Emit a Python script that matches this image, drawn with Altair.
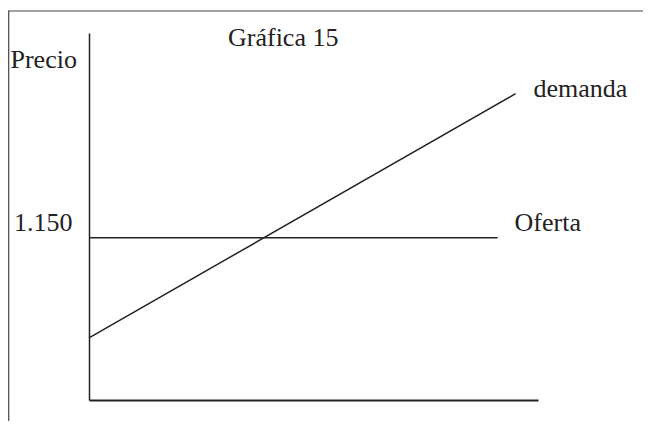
import altair as alt
import pandas as pd

# Data
cantidad_demanda = [0, 95]
precio_demanda = [440, 2170]
cantidad_oferta = [0, 91]
precio_oferta = [1150, 1150]
series = ["demanda", "Oferta"]
precio_ticks = [1150]
titulo = "Gráfica 15"

W, H = 449, 367
FONT = "Liberation Serif"
FS = 26
INK = "#222222"

df = pd.concat([
    pd.DataFrame({"q": cantidad_demanda, "p": precio_demanda, "serie": series[0]}),
    pd.DataFrame({"q": cantidad_oferta, "p": precio_oferta, "serie": series[1]}),
], ignore_index=True)

x_enc = alt.X("q:Q", scale=alt.Scale(domain=[0, 100], nice=False, zero=False),
              axis=alt.Axis(labels=False, ticks=False, title=None, grid=False,
                            domainColor=INK, domainWidth=1.8))
y_enc = alt.Y("p:Q", scale=alt.Scale(domain=[0, 2600], nice=False),
              axis=alt.Axis(values=precio_ticks, ticks=False, grid=False,
                            labelExpr="replace(format(datum.value, ','), ',', '.')",
                            labelFont=FONT, labelFontSize=FS, labelColor=INK,
                            labelPadding=17, labelBaseline="alphabetic", labelOffset=-7,
                            domainColor=INK, domainWidth=1.5,
                            title="Precio", titleAngle=0, titleX=-79, titleY=34,
                            titleAlign="left", titleBaseline="alphabetic",
                            titleFont=FONT, titleFontSize=FS, titleFontWeight="normal",
                            titleColor=INK))

base = alt.Chart(df).encode(x=x_enc, y=y_enc)

lines = base.mark_line(color=INK, strokeWidth=1.5).encode(detail="serie:N")

txt_dem = base.mark_text(font=FONT, fontSize=FS, color=INK, align="left",
                         baseline="alphabetic", dx=18, dy=3).encode(text="serie:N").transform_filter(
    (alt.datum.serie == series[0]) & (alt.datum.q > 0))
txt_of = base.mark_text(font=FONT, fontSize=FS, color=INK, align="left",
                        baseline="alphabetic", dx=17, dy=-7).encode(text="serie:N").transform_filter(
    (alt.datum.serie == series[1]) & (alt.datum.q > 0))

dummy = pd.DataFrame({"t": [titulo]})
title_txt = alt.Chart(dummy).mark_text(font=FONT, fontSize=FS, color=INK, align="left",
                                       baseline="alphabetic").encode(
    text="t:N", x=alt.value(139), y=alt.value(13))
frame_left = alt.Chart(dummy).mark_rule(color="#444444", strokeWidth=1.2).encode(
    x=alt.value(-80.3), y=alt.value(-22), y2=alt.value(390))
frame_top = alt.Chart(dummy).mark_rule(color="#444444", strokeWidth=1.2).encode(
    x=alt.value(-81), x2=alt.value(556), y=alt.value(-22))

chart = alt.layer(lines, txt_dem, txt_of, title_txt, frame_left, frame_top).properties(
    width=W, height=H,
    background="white",
    padding={"left": 81, "top": 25, "right": 105, "bottom": 21},
    autosize=alt.AutoSizeParams(type="none"),
).configure_view(stroke=None)

chart.save("out.html", embed_options={"renderer": "svg", "actions": False})
